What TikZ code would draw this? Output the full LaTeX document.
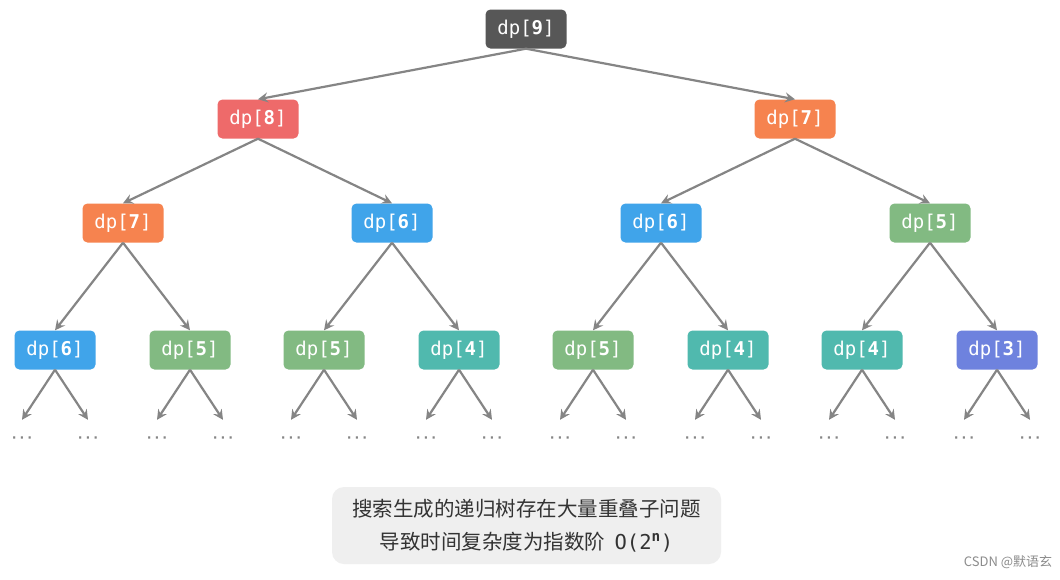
\documentclass[tikz,border=0pt]{standalone}
\usepackage{fontspec}
\setmonofont{DejaVu Sans Mono}
\newfontfamily\cjk{Noto Sans CJK SC}
\usetikzlibrary{arrows.meta}
\definecolor{dpgray}{HTML}{575757}
\definecolor{dpred}{HTML}{EE6A6A}
\definecolor{dporange}{HTML}{F6834F}
\definecolor{dpblue}{HTML}{40A4EA}
\definecolor{dpgreen}{HTML}{82BA82}
\definecolor{dpteal}{HTML}{50B9AE}
\definecolor{dpindigo}{HTML}{6E82DE}
\definecolor{linegray}{HTML}{858585}
\definecolor{notegray}{HTML}{EFEFEF}
\tikzset{> = { Stealth[length = 10pt, width = 10pt, inset = 3.5pt] }}
\newcommand{\dpcell}[1]{\texttt{dp[\textbf{#1}]}}

\begin{document}
\begin{tikzpicture}[x = 1pt, y = -1pt,
    dpbox/.style = { rounded corners = 5pt, minimum width = 81pt, minimum height = 39pt, inner sep = 0pt,
      text = white, font = \fontsize{19}{19}\selectfont },
    branch/.style = { ->, draw = linegray, line width = 2.2pt },
    more/.style = { minimum height = 40pt, inner sep = 0pt, text = linegray, font = \ttfamily\bfseries\fontsize{13}{13}\selectfont }]
		\fill[white] (0,0) rectangle (1060,579);
		\useasboundingbox (0,0) rectangle (1060,579);

		\node [dpbox, fill = dpgray]   (n9)  at (526,29)  {\dpcell{9}};

		\node [dpbox, fill = dpred]    (n8)  at (258,119) {\dpcell{8}};
		\node [dpbox, fill = dporange] (n7)  at (795,119) {\dpcell{7}};

		\node [dpbox, fill = dporange] (n87) at (123,223) {\dpcell{7}};
		\node [dpbox, fill = dpblue]   (n86) at (392,223) {\dpcell{6}};
		\node [dpbox, fill = dpblue]   (n76) at (661,223) {\dpcell{6}};
		\node [dpbox, fill = dpgreen]  (n75) at (930,223) {\dpcell{5}};

		\foreach \name/\x/\c/\k in {a/55/dpblue/6, b/190/dpgreen/5, c/324/dpgreen/5, d/459/dpteal/4,
		                            e/593/dpgreen/5, f/728/dpteal/4, g/862/dpteal/4, h/997/dpindigo/3} {
			\node [dpbox, fill = \c] (l\name) at (\x,350) {\dpcell{\k}};
			\node [more] (l\name L) at (\x-33,440) {···};
			\node [more] (l\name R) at (\x+33,440) {···};
			\draw [branch] (l\name.south) -- (l\name L.north);
			\draw [branch] (l\name.south) -- (l\name R.north);
		}

		\draw [branch] (n9.south) -- (n8.north);
		\draw [branch] (n9.south) -- (n7.north);

		\draw [branch] (n8.south) -- (n87.north);
		\draw [branch] (n8.south) -- (n86.north);
		\draw [branch] (n7.south) -- (n76.north);
		\draw [branch] (n7.south) -- (n75.north);

		\draw [branch] (n87.south) -- (la.north);
		\draw [branch] (n87.south) -- (lb.north);
		\draw [branch] (n86.south) -- (lc.north);
		\draw [branch] (n86.south) -- (ld.north);
		\draw [branch] (n76.south) -- (le.north);
		\draw [branch] (n76.south) -- (lf.north);
		\draw [branch] (n75.south) -- (lg.north);
		\draw [branch] (n75.south) -- (lh.north);

		\node [fill = notegray, rounded corners = 12pt, minimum width = 389pt, minimum height = 77pt,
		       align = center, text = black!80, font = \cjk\fontsize{20.5}{33}\selectfont] (note) at (526.5,525.5)
		      {搜索生成的递归树存在大量重叠子问题\\导致时间复杂度为指数阶\ \ \texttt{O(2\textsuperscript{\textbf{n}})}};

		\node [text = black!45, font = \cjk\fontsize{13}{13}\selectfont] (mark) at (1008,562) {CSDN @默语玄};
	\end{tikzpicture}
\end{document}
